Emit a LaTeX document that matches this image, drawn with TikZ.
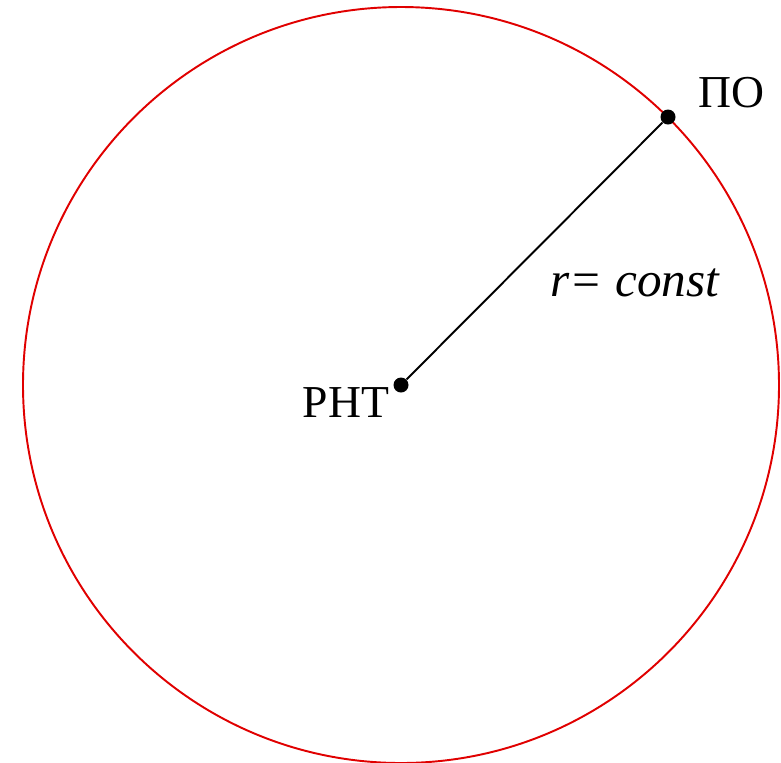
\documentclass[tikz,border=0pt]{standalone}
\usepackage{fontspec}
\setmainfont{Liberation Serif}
\usetikzlibrary{positioning}
\definecolor{orbRed}{HTML}{E00000}
\tikzset{
  orbit/.style={draw=orbRed, line width=1.1pt},
  radius line/.style={draw=black, line width=1.1pt},
  dotpt/.style={circle, fill=black, inner sep=0pt, minimum size=3mm},
  lbl/.style={font=\fontsize{26}{31}\selectfont, inner sep=0pt}
}
\begin{document}
\begin{tikzpicture}[x=0.02cm, y=-0.02cm]
  \useasboundingbox (0,0) rectangle (781,762);
  \coordinate (c) at (401,385);
  \draw[orbit] (c) circle[radius=378];
  \node[dotpt] (rnt) at (c) {};
  \node[dotpt] (po) at (668,117) {};
  \draw[radius line] (rnt) -- (po);
  \node[lbl] (polbl) at (731,93) {ПО};
  \node[lbl] (rntlbl) at (346,403) {РНТ};
  \node[lbl, font=\fontsize{28}{33}\selectfont\itshape] (rlbl) at (635,283) {r=\ const};
\end{tikzpicture}
\end{document}
